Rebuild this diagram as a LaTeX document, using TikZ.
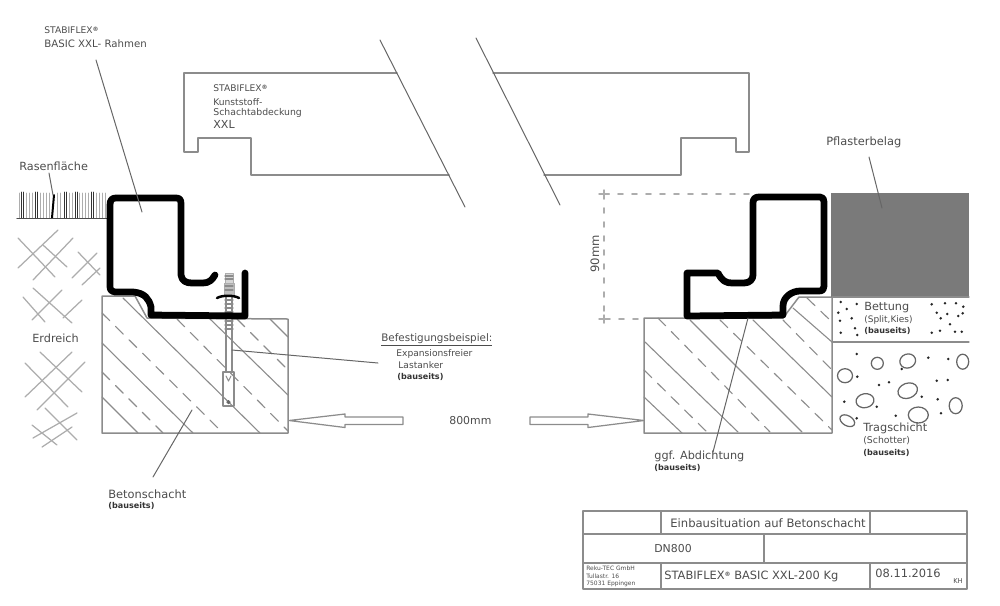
\documentclass[tikz,border=0pt]{standalone}
\usepackage{fontspec}
\setmainfont{DejaVu Sans}
\definecolor{linegray}{gray}{.55}
\definecolor{softgray}{gray}{.68}
\definecolor{txtgray}{gray}{.3}
\definecolor{paving}{gray}{.48}
\newcommand{\regmark}{\raisebox{.45ex}{\fontsize{3.4}{3.4}\selectfont\bfseries ®}}
\tikzset{
    lbl/.style={anchor=west,inner sep=0pt,text=txtgray,font=\fontsize{#1}{8}\selectfont},
    lbl/.default=5.6,
    bau/.style={anchor=west,inner sep=0pt,text=black!80,font=\fontsize{4.6}{5}\selectfont\bfseries},
    outline/.style={draw=linegray,line width=.3mm},
    thin line/.style={draw=linegray,line width=.22mm},
    soil/.style={draw=softgray,line width=.25mm},
    frame/.style={draw=black,line width=1.35mm,line join=round,line cap=round},
    hatchdash/.style={thin line,dash pattern=on 2.2mm off 1.6mm},
    leader/.style={draw=black!60,line width=.2mm}
}
\begin{document}
\begin{tikzpicture}[x=.2mm,y=-.2mm,line join=round,line cap=round]
    \useasboundingbox (0,0) rectangle (1000,605);
    % concrete shafts
    \draw[outline] (102,296)--(135,296)--(147,318)--(288,319)--(288,433)--(102,433)--cycle;
    \draw[outline] (644,318)--(783,318)--(799,297)--(832,297)--(832,433)--(644,433)--cycle;
    \foreach \a/\b/\c/\d in {102/397/138/433,102/343/193/433,123/298/260/433,210/319/288/395,270/319/288/337,
        645/342/738/432,644/397/682/433,690/320/802/432,753/320/832/397,793/308/832/342}
    \draw[thin line] (\a,\b)--(\c,\d);
    \foreach \a/\b/\c/\d in {102/313/223/433,102/372/163/433,177/319/288/431,237/319/288/370,
        658/318/770/432,644/370/707/432,720/320/832/430,783/320/832/370,807/298/832/322}
    \draw[hatchdash] (\a,\b)--(\c,\d);
    % grass
    \foreach \x in {19,26,29,32,40,43,46,49,57,60,69,72,79,82,85,88,96,99,102,105}
    \draw[draw=softgray,line width=.18mm] (\x,193)--(\x,218);
    \foreach \x in {21,23,35,37,64,66,75,77,91,93}
    \draw[black!80,line width=.2mm] (\x,192)--(\x,218);
    \draw[black,line width=.4mm] (54,195)--(52,218);
    \draw[black!70,line width=.22mm] (17,218.5)--(107,218.5);
    % soil
    \foreach \a/\b/\c/\d in {18/238/55/277,33/280/73/238,18/268/58/230,43/245/67/267,
        78/252/100/275,72/278/97/253,82/285/100/268,23/297/45/322,33/288/72/323,32/320/62/290,63/318/82/300,
        25/363/68/407,40/352/82/392,25/397/72/352,37/410/85/362,45/408/77/440,32/425/57/445,33/438/77/413,42/447/72/427}
    \draw[soil] (\a,\b)--(\c,\d);
    % cover
    \draw[outline] (397,73)--(184,73)--(184,152)--(198,152)--(198,138)--(251,138)--(251,175)--(449,175);
    \draw[outline] (493,73)--(749,73)--(749,152)--(736,152)--(736,138)--(681,138)--(681,175)--(544,175);
    \draw[leader] (380,40)--(465,207) (476,38)--(560,205);
    % anchor
    \draw[thin line] (226,283)--(226,372) (232,283)--(232,372);
    \draw[outline] (223,372) rectangle (234,406);
    \draw[thin line] (226,376)--(228.5,381)--(231,376);
    \draw[softgray,fill=softgray!50] (225,273) rectangle (233,283);
    \draw[softgray,fill=softgray!80] (224,283) rectangle (234,295);
    \foreach \y in {276,279,286,290,300,304,308,312,321,325,329}
    \draw[thin line] (225,\y)--(233,\y);
    \filldraw[black!60] (228.5,402) circle(1pt);
    % frames
    \draw[frame] (245,273)--(245,316)--(151,315)--(151,307) .. controls (149,299) and (145,293) .. (133,292)
        --(115,292) .. controls (111,291) and (110,290) .. (110,286)--(110,205)
        .. controls (110,200) and (112,198) .. (116,198)--(176,198) .. controls (180,198) and (181,200) .. (181,204)
        --(181,275) .. controls (182,281) and (186,283) .. (192,283)--(203,283) .. controls (209,283) and (212,280) .. (215,275);
    \draw[frame] (687,316)--(687,273)--(718,273) .. controls (722,281) and (726,283) .. (732,283)
        --(744,283) .. controls (750,283) and (753,279) .. (753,275)--(753,203)
        .. controls (753,199) and (755,197) .. (759,197)--(820,197) .. controls (823,197) and (824,199) .. (824,202)
        --(824,286) .. controls (824,289) and (823,291) .. (819,291)--(800,291) .. controls (792,291) and (783,297) .. (783,306)
        --(783,315)--cycle;
    \draw[black,line width=.5mm] (217,298) .. controls (222,295) and (234,295) .. (239,298);
    % paving
    \fill[paving] (831,193) rectangle (969,297);
    \draw[thin line] (832,297)--(969,297) (832,342)--(969,342);
    \foreach \x/\y in {840.7/302,846.7/309,856.7/304,838.3/312.7,851.7/318.3,840/320.7,855/328.3,840.7/332.7,857.3/335,
        931.7/304.3,945/303.3,956/303.3,963.3/306.7,936.7/312.7,947.3/314,962.7/313.3,958.3/316,940.7/318.3,950/324.3,
        931.7/332.7,940/330.7,955/331.7,961.7/331.7,856.7/354,901.7/369,928.3/357.7,948.3/359,857.3/376.7,879/385,
        889/382.3,936.7/380.7,947.7/380,921.7/396.7,937.7/399.3,844.3/401.7,876.7/406.7,941/413.3,895.7/415.7,856.7/418.3}
    \fill[black!85] (\x,\y) circle(.8pt);
    \foreach \x/\y/\a/\b/\r in {877.3/363.3/6/6/0,907.7/361/8/7/20,962.7/361.7/6/7.5/0,845/375.7/7.5/7/0,907.7/390.7/10/7.5/20,
        865/400.7/9/7/10,955.7/405.7/6.5/8/0,918.3/415/10/8/0,847.3/420.7/8/5/-30}
    \draw[black!60,line width=.25mm,rotate around={\r:(\x,\y)}] (\x,\y) ellipse[x radius=\a,y radius=\b];
    % dimensions
    \draw[softgray,line width=.35mm,dash pattern=on 1mm off 1.8mm] (604,194)--(753,194) (604,194)--(604,319)--(644,319);
    \foreach \y in {194,319}
    \draw[softgray,line width=.3mm] (599,\y)--(609,\y) (604,\y-4)--(604,\y+4);
    \foreach \x/\d in {289/1,644/-1}
    \draw[outline,line width=.25mm] (\x,420.5)--(\x+\d*56,414)--(\x+\d*56,417)--(\x+\d*114,417)--(\x+\d*114,424.5)--(\x+\d*56,424.5)--(\x+\d*56,427.5)--cycle;
    % leaders
    \coordinate (rahmenA) at (96,60);
    \coordinate (rahmenB) at (142,212);
    \coordinate (rasenA) at (49,173);
    \coordinate (rasenB) at (53,195);
    \coordinate (ankerA) at (232,350);
    \coordinate (ankerB) at (378,363);
    \coordinate (betonA) at (192,410);
    \coordinate (betonB) at (153,477);
    \coordinate (dichtA) at (748,318);
    \coordinate (dichtB) at (713,452);
    \coordinate (pflasterA) at (869,157);
    \coordinate (pflasterB) at (882,208);
    \foreach \i in {rahmen,rasen,anker,beton,dicht,pflaster}
    \draw[leader] (\i A)--(\i B);
    % texts
    \node[lbl=5.2] (rahmen1) at (44,30) {STABIFLEX\regmark};
    \node[lbl=5.8] (rahmen2) at (44,44) {BASIC XXL- Rahmen};
    \node[lbl=5.2] (cover1) at (213,88) {STABIFLEX\regmark};
    \node[lbl=5.2] (cover2) at (213,102) {Kunststoff-};
    \node[lbl=5.3] (cover3) at (213,113) {Schachtabdeckung};
    \node[lbl=6.3] (cover4) at (213,124) {XXL};
    \node[lbl=6.4] (rasen) at (19,166) {Rasenfläche};
    \node[lbl=6.4] (erde) at (32,338) {Erdreich};
    \node[lbl=6.5] (pflaster) at (826,142) {Pflasterbelag};
    \node[lbl=5.9] (befest) at (381,340) {\underline{Befestigungsbeispiel:}};
    \node[lbl=5.2] (anker1) at (396,354) {Expansionsfreier};
    \node[lbl=5.2] (anker2) at (398,365) {Lastanker};
    \node[bau] (anker3) at (397,377) {(bauseits)};
    \node[lbl=6.2] (mass) at (449,421) {800mm};
    \node[lbl=6.6,rotate=90,anchor=center] (hoehe) at (595,254) {90mm};
    \node[lbl=6.5] (beton1) at (108,494) {Betonschacht};
    \node[bau] (beton2) at (108,506) {(bauseits)};
    \node[lbl=6.4] (dicht1) at (654,456) {ggf. Abdichtung};
    \node[bau] (dicht2) at (654,468) {(bauseits)};
    \node[lbl=6.4] (bett1) at (864,308) {Bettung};
    \node[lbl=5.1] (bett2) at (864,320) {(Split,Kies)};
    \node[bau] (bett3) at (864,331) {(bauseits)};
    \node[lbl=6.4] (trag1) at (863,428) {Tragschicht};
    \node[lbl=5.3] (trag2) at (863,441) {(Schotter)};
    \node[bau] (trag3) at (863,453) {(bauseits)};
    % title block
    \draw[outline] (583,511) rectangle (967,589);
    \draw[outline] (583,534)--(967,534) (583,563)--(967,563);
    \foreach \x/\a/\b in {661/511/534,870/511/534,764/534/563,661/563/589,870/563/589}
    \draw[outline] (\x,\a)--(\x,\b);
    \node[lbl=6.6] (titel) at (670,523) {Einbausituation auf Betonschacht};
    \node[lbl=6.2] (dn) at (654,549) {DN800};
    \node[lbl=3.4,text=black!70] (firma1) at (586,568) {Reku-TEC GmbH};
    \node[lbl=3.4,text=black!70] (firma2) at (586,576) {Tullastr. 16};
    \node[lbl=3.4,text=black!70] (firma3) at (586,584) {75031 Eppingen};
    \node[lbl=6.5] (typ) at (664,576) {STABIFLEX\regmark{} BASIC XXL-200 Kg};
    \node[lbl=6.5] (datum) at (875,573) {08.11.2016};
    \node[lbl=3.8] (kz) at (953,581) {KH};
\end{tikzpicture}
\end{document}
